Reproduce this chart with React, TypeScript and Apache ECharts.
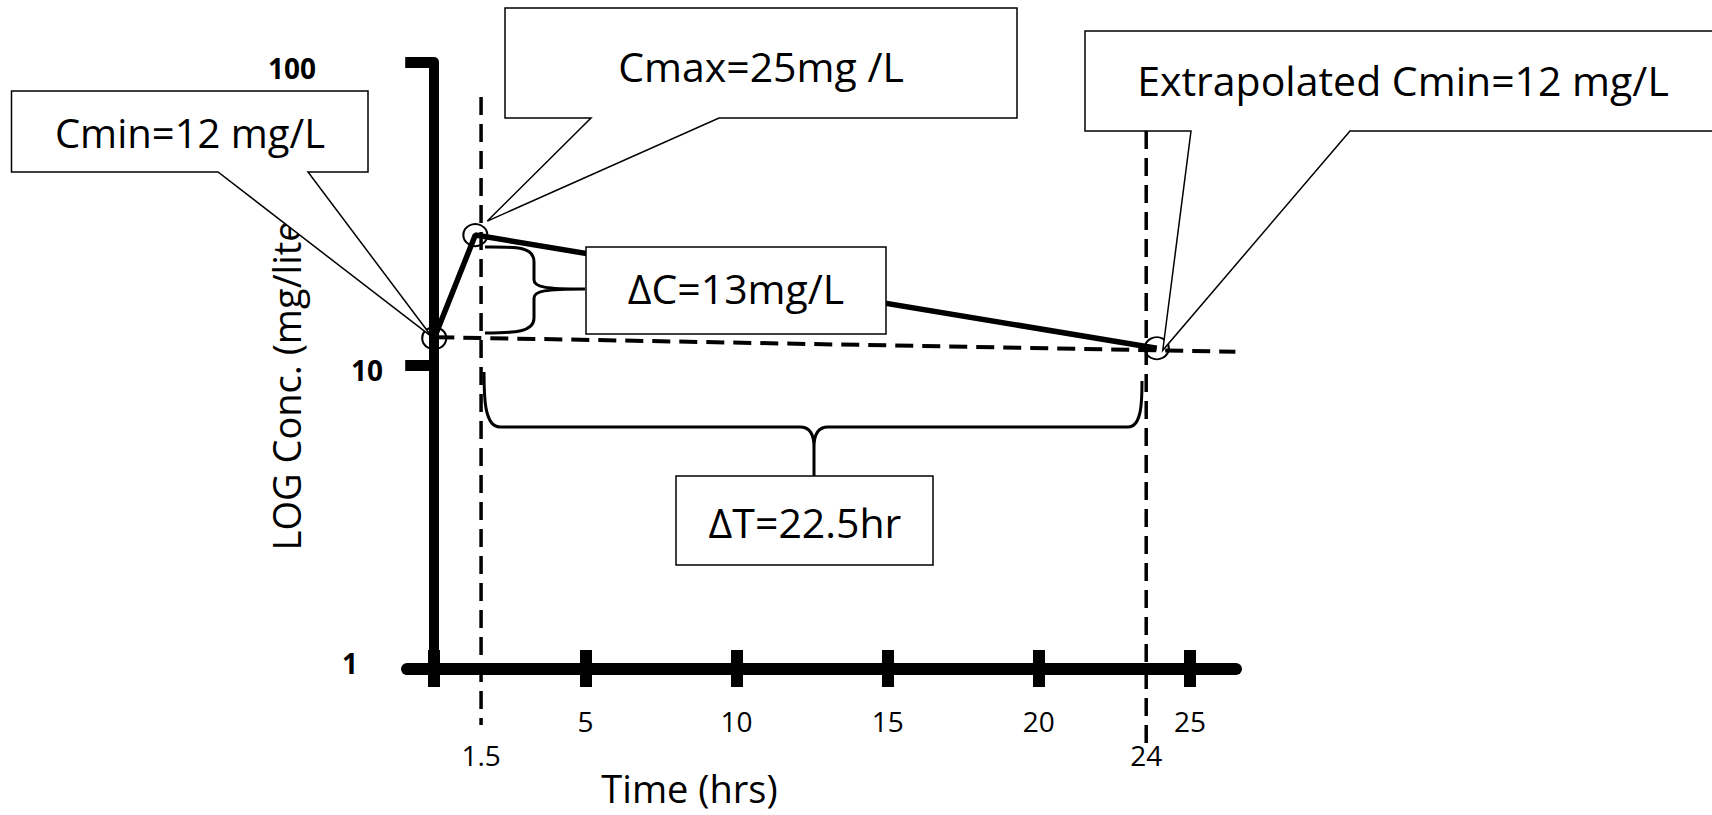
import React, { useEffect, useRef } from "react";
import * as echarts from "echarts";

// ---- data ----
const timeHrs = [0, 1.36, 23.9];
const concMgL = [12.3, 26.9, 11.4];
const baselineTime = [0.07, 26.5];
const baselineConc = [12.4, 11.1];
const peakGuideTime = [1.55, 1.55];
const peakGuideConc = [76.7, 0.654];
const troughGuideTime = [23.55, 23.55];
const troughGuideConc = [59.3, 0.533];
const xTickValues = [0, 5, 10, 15, 20, 25];
const xLabelValues = [5, 10, 15, 20, 25];
const markerTimes = [1.55, 23.55];
const markerLabels = ["1.5", "24"];
const yTickLabels = ["1", "10", "100"];
const xAxisTitle = "Time (hrs)";
const yAxisTitle = "LOG Conc. (mg/liter)";
const cminText = "Cmin=12 mg/L";
const cmaxText = "Cmax=25mg /L";
const extrapText = "Extrapolated Cmin=12 mg/L";
const deltaCText = "ΔC=13mg/L";
const deltaTText = "ΔT=22.5hr";

const X_MIN = -0.9;
const X_MAX = 26.52;

// curly braces
const braceCPath =
  "M485,247 C515,247 534,246 534,262 L534,280 C534,287 545,289 585,289 C545,289 534,291 534,298 L534,318 C534,332 515,333 485,333";
const braceTPath =
  "M484,372 C484,395 484,427 500,427 L800,427 C810,427 814,435 814,447 L814,476 M814,447 C814,435 818,427 828,427 L1128,427 C1142,427 1142,400 1142,381";
echarts.graphic.registerShape("braceDeltaC", echarts.graphic.extendPath(braceCPath, {}));
echarts.graphic.registerShape("braceDeltaT", echarts.graphic.extendPath(braceTPath, {}));

const FONT = '"Open Sans", sans-serif';

function pair(xs: number[], ys: number[]) {
  return xs.map((x, i) => [x, ys[i]]);
}

function calloutPoly(x0: number, y0: number, x1: number, y1: number, b0: number, b1: number, tip: number[]) {
  return {
    type: "polygon",
    z: 100,
    shape: { points: [[x0, y0], [x1, y0], [x1, y1], [b1, y1], tip, [b0, y1], [x0, y1]] },
    style: { fill: "#fff", stroke: "#000", lineWidth: 1.5 },
  };
}

function label(text: string, x: number, y: number, size: number) {
  return {
    type: "text",
    z: 101,
    x,
    y,
    style: { text, fontSize: size, fontFamily: FONT, fill: "#000", align: "center", verticalAlign: "middle" },
  };
}

export default function App() {
  const ref = useRef<HTMLDivElement>(null);
  useEffect(() => {
    document.body.style.margin = "0";
    document.body.style.overflow = "hidden";
    const chart = echarts.init(ref.current!, null, { renderer: "svg" });
    const yRichKeys = ["c", "b", "a"];
    chart.setOption({
      animation: false,
      backgroundColor: "#fff",
      grid: { left: 407, right: 476, top: 62, bottom: 146, containLabel: false, outerBoundsMode: "none" },
      xAxis: [
        {
          type: "value",
          min: X_MIN,
          max: X_MAX,
          position: "bottom",
          axisLine: { show: true, onZero: false, lineStyle: { color: "#000", width: 12 } },
          axisTick: { show: true, customValues: xTickValues, length: 18, lineStyle: { color: "#000", width: 12 } },
          axisLabel: { customValues: xLabelValues, margin: 38, color: "#000", fontSize: 28, fontFamily: FONT },
          splitLine: { show: false },
        },
        {
          type: "value",
          min: X_MIN,
          max: X_MAX,
          position: "bottom",
          offset: 0,
          axisLine: { show: false, onZero: false },
          axisTick: { show: true, inside: true, customValues: xTickValues, length: 19, lineStyle: { color: "#000", width: 12 } },
          axisLabel: {
            customValues: markerTimes,
            margin: 72,
            color: "#000",
            fontSize: 28,
            fontFamily: FONT,
            formatter: (v: number) => {
              let best = 0;
              markerTimes.forEach((t, i) => {
                if (Math.abs(t - v) < Math.abs(markerTimes[best] - v)) best = i;
              });
              return markerLabels[best];
            },
          },
          splitLine: { show: false },
          name: xAxisTitle,
          nameLocation: "middle",
          nameGap: 100,
          nameMoveOverlap: false,
          nameTextStyle: { fontSize: 38, fontFamily: FONT, color: "#000", padding: [0, 264, 0, 0] },
        },
      ],
      yAxis: {
        type: "log",
        logBase: 10,
        min: 1,
        max: 100,
        position: "left",
        axisLine: { show: true, onZero: true, lineStyle: { color: "#000", width: 10 } },
        axisTick: { show: true, length: 29, lineStyle: { color: "#000", width: 11 } },
        minorTick: { show: false },
        splitLine: { show: false },
        minorSplitLine: { show: false },
        axisLabel: {
          margin: 24,
          color: "#000",
          fontSize: 28,
          fontWeight: "bold",
          fontFamily: FONT,
          formatter: (v: number) => {
            const i = Math.round(Math.log10(v));
            return "{" + yRichKeys[i] + "|" + yTickLabels[i] + "}";
          },
          rich: {
            a: { padding: [12, 67, 0, 0], fontSize: 28, fontWeight: "bold", fontFamily: FONT, color: "#000" },
            b: { padding: [9, 0, 0, 0], fontSize: 28, fontWeight: "bold", fontFamily: FONT, color: "#000" },
            c: { padding: [0, 25, 12, 0], fontSize: 28, fontWeight: "bold", fontFamily: FONT, color: "#000" },
          },
        },
        name: yAxisTitle,
        nameLocation: "middle",
        nameRotate: 90,
        nameGap: 102,
        nameMoveOverlap: false,
        nameTextStyle: { fontSize: 38, fontFamily: FONT, color: "#000", padding: [0, 13, 0, 0] },
      },
      series: [
        {
          type: "line",
          name: "Concentration",
          xAxisIndex: 0,
          yAxisIndex: 0,
          data: pair(timeHrs, concMgL),
          clip: false,
          silent: true,
          z: 5,
          lineStyle: { color: "#000", width: 5.5 },
          symbol: "circle",
          symbolSize: [24, 22],
          showAllSymbol: true,
          itemStyle: { color: "rgba(255,255,255,0)", borderColor: "#000", borderWidth: 2 },
        },
        {
          type: "line",
          name: "Baseline",
          xAxisIndex: 0,
          yAxisIndex: 0,
          data: pair(baselineTime, baselineConc),
          clip: false,
          silent: true,
          z: 4,
          symbol: "none",
          lineStyle: { color: "#000", width: 4, type: [18, 9] },
        },
        {
          type: "line",
          name: "Peak time",
          xAxisIndex: 0,
          yAxisIndex: 0,
          data: pair(peakGuideTime, peakGuideConc),
          clip: false,
          silent: true,
          z: 4,
          symbol: "none",
          lineStyle: { color: "#000", width: 3.5, type: [18, 9] },
        },
        {
          type: "line",
          name: "Trough time",
          xAxisIndex: 0,
          yAxisIndex: 0,
          data: pair(troughGuideTime, troughGuideConc),
          clip: false,
          silent: true,
          z: 4,
          symbol: "none",
          lineStyle: { color: "#000", width: 3.5, type: [18, 9] },
        },
      ],
    });

    const px = (i: number) =>
      chart.convertToPixel({ xAxisIndex: 0, yAxisIndex: 0 }, [timeHrs[i], concMgL[i]]) as number[];
    const p0 = px(0);
    const p1 = px(1);
    const p2 = px(2);

    chart.setOption({
      graphic: {
        elements: [
          calloutPoly(11.5, 91, 368, 172, 218, 308, [p0[0] - 2, p0[1] - 1]),
          label(cminText, 190, 132, 40),
          calloutPoly(505, 8, 1017, 118, 591, 719, [p1[0] + 12, p1[1] - 14]),
          label(cmaxText, 761, 66, 41),
          calloutPoly(1085, 31, 1722, 131, 1191, 1350, [p2[0] + 6, p2[1] + 2]),
          label(extrapText, 1403, 80, 41),
          {
            type: "rect",
            z: 100,
            shape: { x: 586, y: 247, width: 300, height: 87 },
            style: { fill: "#fff", stroke: "#000", lineWidth: 1.5 },
          },
          label(deltaCText, 736, 288, 41),
          {
            type: "rect",
            z: 100,
            shape: { x: 676, y: 476, width: 257, height: 89 },
            style: { fill: "#fff", stroke: "#000", lineWidth: 1.5 },
          },
          label(deltaTText, 805, 522, 41),
          { type: "braceDeltaC", z: 99, x: 0, y: 0, style: { fill: "none", stroke: "#000", lineWidth: 3 } },
          { type: "braceDeltaT", z: 99, x: 0, y: 0, style: { fill: "none", stroke: "#000", lineWidth: 3 } },
        ],
      },
    });

    return () => chart.dispose();
  }, []);
  return <div ref={ref} style={{ width: 1712, height: 815 }} />;
}
